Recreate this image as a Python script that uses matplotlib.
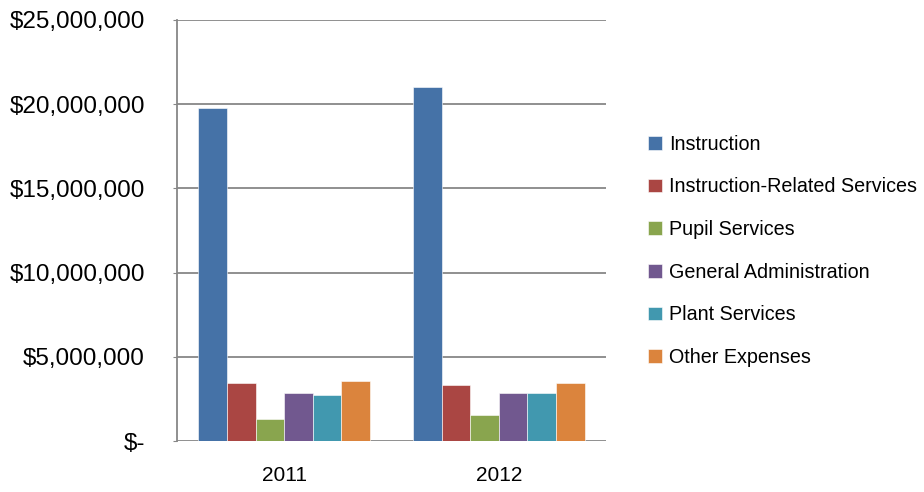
import matplotlib.pyplot as plt
import numpy as np
from matplotlib.ticker import FuncFormatter

years = ['2011', '2012']
categories = ['Instruction', 'Instruction-Related Services', 'Pupil Services',
              'General Administration', 'Plant Services', 'Other Expenses']
values = {
    'Instruction': [19780000, 21020000],
    'Instruction-Related Services': [3440000, 3330000],
    'Pupil Services': [1310000, 1540000],
    'General Administration': [2850000, 2850000],
    'Plant Services': [2730000, 2850000],
    'Other Expenses': [3560000, 3440000],
}
colors = ['#4572A7', '#AA4643', '#89A54E', '#71588F', '#4198AF', '#DB843D']

plt.rcParams['font.family'] = ['Liberation Sans', 'DejaVu Sans']

fig = plt.figure(figsize=(9.24, 4.92), dpi=100)
ax = fig.add_axes([177/924, 51/492, 429/924, 421/492])

x = np.arange(len(years))
group = 0.8
w = group / len(categories)
for i, (cat, c) in enumerate(zip(categories, colors)):
    pos = x - group/2 + w/2 + i*w
    ax.bar(pos, values[cat], width=w, color=c, edgecolor='white', linewidth=0.4,
           label=cat, zorder=3)

ax.set_xlim(-0.5, 1.5)
ax.set_ylim(0, 25000000)
ax.set_yticks(np.arange(0, 25000001, 5000000))
ax.yaxis.set_major_formatter(FuncFormatter(lambda v, p: '$-' if v == 0 else f'${v:,.0f}'))
ax.set_xticks(x)
ax.set_xticklabels(years)
ax.grid(axis='y', color='#878787', linewidth=1.3, zorder=0)
for s in ['top', 'right', 'bottom']:
    ax.spines[s].set_visible(False)
ax.spines['left'].set_color('#878787')
ax.spines['left'].set_linewidth(1.3)
ax.tick_params(axis='y', length=3, color='#878787', labelsize=17.5, pad=20)
ax.tick_params(axis='x', length=0, labelsize=15, pad=18)
for lab in ax.get_yticklabels():
    lab.set_horizontalalignment('right')

leg = fig.legend(loc='upper left', bbox_to_anchor=(630/924, 1 - 117/492), frameon=False,
                 fontsize=14.2, handlelength=0.7, handleheight=0.7, handletextpad=0.4,
                 labelspacing=1.2)

fig.savefig('out.png', dpi=100)
